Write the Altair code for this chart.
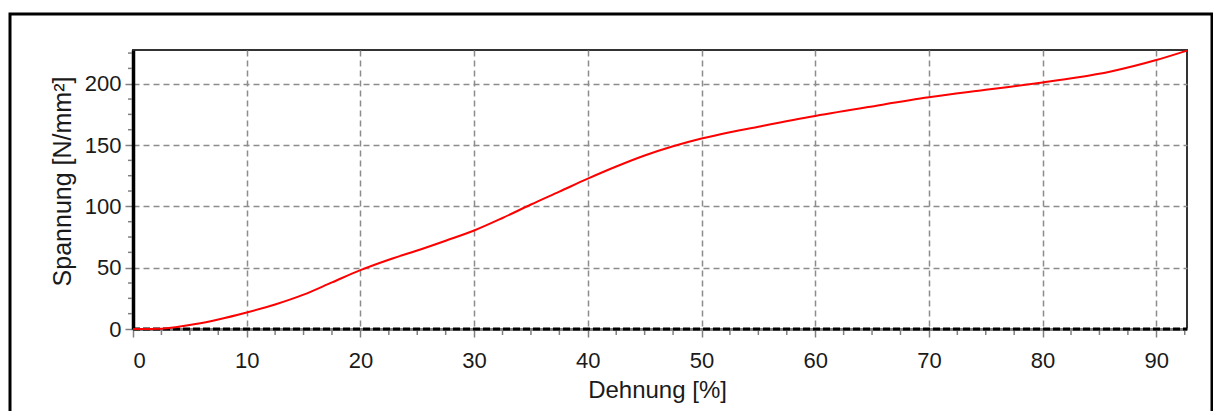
import altair as alt
import pandas as pd

# ---- data ----
strain = [0, 2.5, 4, 5.5, 7.5, 10, 12.5, 15, 17.5, 20, 22.5, 25, 27.5, 30, 32.5, 35,
          37.5, 40, 42.5, 45, 47.5, 50, 52.5, 55, 60, 65, 70, 75, 80, 83, 86, 90, 92.7]
stress = [0, 0.3, 1.8, 4, 7.8, 13.5, 20, 28, 38, 48, 56.5, 64, 72, 80.3, 90.5, 101.5,
          112, 122.6, 132.5, 141.5, 149, 155.3, 160.5, 165, 173.7, 181.5, 188.9, 195, 201, 205, 210, 219.3, 227]

x_ticks = [0, 10, 20, 30, 40, 50, 60, 70, 80, 90]
y_ticks = [0, 50, 100, 150, 200]
x_minor = [2.5, 5, 7.5, 12.5, 15, 17.5, 22.5, 25, 27.5, 32.5, 35, 37.5, 42.5, 45, 47.5,
           52.5, 55, 57.5, 62.5, 65, 67.5, 72.5, 75, 77.5, 82.5, 85, 87.5, 92.5]
y_minor = [12.5, 25, 37.5, 62.5, 75, 87.5, 112.5, 125, 137.5, 162.5, 175, 187.5, 212.5, 225]

x_title = "Dehnung [%]"
y_title = "Spannung [N/mm²]"

W, H = 1054, 279
FONT = "Liberation Sans"
GRID = "#8c8c8c"

df = pd.DataFrame({"strain": strain, "stress": stress})
xs = alt.Scale(domain=[0, 92.7], nice=False, zero=False)
ys = alt.Scale(domain=[0, 227.5], nice=False, zero=False)
one = pd.DataFrame({"d": [0]})

x_axis = alt.Axis(
    values=x_ticks, title=x_title, grid=True, gridColor=GRID, gridDash=[6, 4], gridWidth=1.5,
    domainColor="#808080", domainWidth=3, tickColor="#808080", tickSize=8, tickWidth=1.5,
    labelFont=FONT, labelFontSize=22, labelColor="#1a1a1a", labelPadding=13,
    titleFont=FONT, titleFontSize=24, titleFontWeight="normal", titleColor="#1a1a1a",
    titleX=W / 2 - 3, titleY=68, titleBaseline="alphabetic", titleAlign="center")
y_axis = alt.Axis(
    values=y_ticks, title=y_title, grid=True, gridColor=GRID, gridDash=[6, 4], gridWidth=1.5,
    domainColor="black", domainWidth=3.5, tickColor="#808080", tickSize=8, tickWidth=1.5,
    labelFont=FONT, labelFontSize=22, labelColor="#1a1a1a", labelPadding=4,
    titleFont=FONT, titleFontSize=25, titleFontWeight="normal", titleColor="#1a1a1a",
    titleX=-63, titleY=131, titleAngle=270, titleBaseline="alphabetic", titleAlign="center")

frame = alt.Chart(one).mark_rect(fill=None, stroke="black", strokeWidth=3).encode(
    x=alt.value(-123), x2=alt.value(1079), y=alt.value(-36), y2=alt.value(370)
)

minor_x = alt.Chart(pd.DataFrame({"strain": x_minor})).mark_rule(color="#808080", strokeWidth=1.5).encode(
    x=alt.X("strain:Q", scale=xs, axis=x_axis), y=alt.value(H), y2=alt.value(H + 6)
)
minor_y = alt.Chart(pd.DataFrame({"stress": y_minor})).mark_rule(color="#808080", strokeWidth=1.5).encode(
    y=alt.Y("stress:Q", scale=ys, axis=y_axis), x=alt.value(-5), x2=alt.value(-1)
)

bottom_dash = alt.Chart(pd.DataFrame({"strain": [0], "strain2": [92.7], "stress": [0]})).mark_rule(
    color="black", strokeWidth=3, strokeDash=[7, 3]).encode(
    x=alt.X("strain:Q", scale=xs, axis=x_axis), x2="strain2:Q",
    y=alt.Y("stress:Q", scale=ys, axis=y_axis)
)

curve = alt.Chart(df).mark_line(color="#ff0000", strokeWidth=2, interpolate="monotone").encode(
    x=alt.X("strain:Q", scale=xs, axis=x_axis),
    y=alt.Y("stress:Q", scale=ys, axis=y_axis),
)

chart = alt.layer(frame, minor_x, minor_y, bottom_dash, curve).properties(
    width=W, height=H,
    autosize=alt.AutoSizeParams(type="none"),
    padding={"left": 125, "top": 42, "right": 26, "bottom": 82},
    background="white",
).configure_view(stroke="#333333", strokeWidth=2)

chart.save("out.html", embed_options={"renderer": "svg", "actions": False})
